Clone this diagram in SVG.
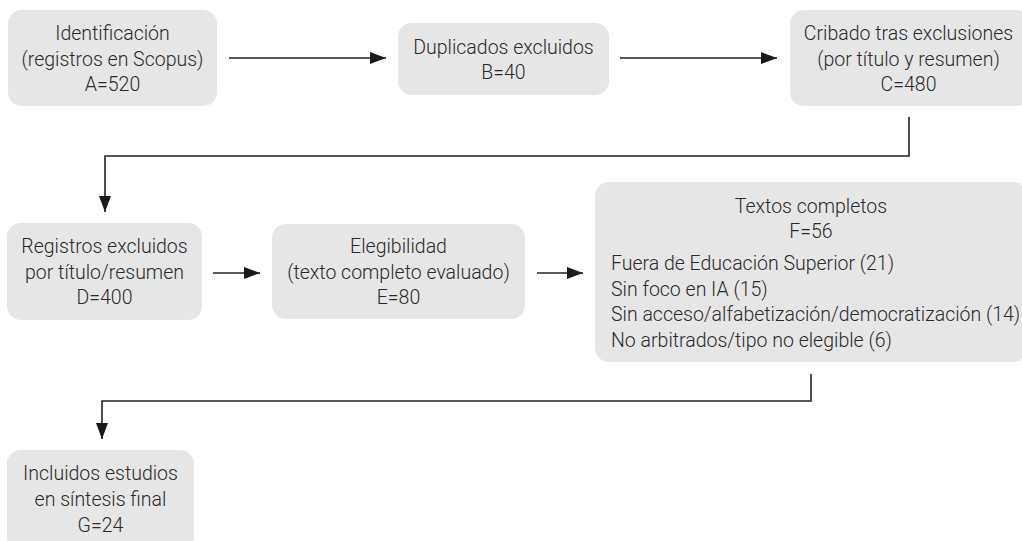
<svg xmlns="http://www.w3.org/2000/svg" width="1022" height="541" viewBox="0 0 1022 541">
<style>
.box{fill:#e6e6e7;}
.t{font-family:Roboto,"Liberation Sans",sans-serif;font-size:19.5px;font-weight:300;fill:#2a2a2a;}
.c{text-anchor:middle;}
.ln{stroke:#222;stroke-width:1.6;fill:none;}
</style>
<defs>
<marker id="ah" viewBox="0 0 16 12" refX="16" refY="6" markerWidth="16" markerHeight="12" markerUnits="userSpaceOnUse" orient="auto">
<path d="M0,0 L16,6 L0,12 Z" fill="#1a1a1a"/>
</marker>
</defs>
<rect width="1022" height="541" fill="#fff"/>
<g id="connectors">
<line class="ln" x1="229" y1="58" x2="386" y2="58" marker-end="url(#ah)"/>
<line class="ln" x1="620" y1="58" x2="777" y2="58" marker-end="url(#ah)"/>
<polyline class="ln" points="909,117 909,156 105,156 105,212" marker-end="url(#ah)"/>
<line class="ln" x1="213" y1="273" x2="260" y2="273" marker-end="url(#ah)"/>
<line class="ln" x1="537" y1="273" x2="583" y2="273" marker-end="url(#ah)"/>
<polyline class="ln" points="811,374 811,401 102,401 102,439" marker-end="url(#ah)"/>
</g>
<g id="A">
<rect class="box" x="8" y="10" width="209" height="96" rx="14"/>
<text class="t c" x="112.5" y="40">Identificación</text>
<text class="t c" x="112.5" y="65.5">(registros en Scopus)</text>
<text class="t c" x="112.5" y="91">A=520</text>
</g>
<g id="B">
<rect class="box" x="398" y="23" width="211" height="72" rx="14"/>
<text class="t c" x="503.5" y="54">Duplicados excluidos</text>
<text class="t c" x="503.5" y="79">B=40</text>
</g>
<g id="C">
<rect class="box" x="790" y="10" width="240" height="96" rx="14"/>
<text class="t c" x="908.5" y="40">Cribado tras exclusiones</text>
<text class="t c" x="908.5" y="65.5">(por título y resumen)</text>
<text class="t c" x="908.5" y="91">C=480</text>
</g>
<g id="D">
<rect class="box" x="7" y="223" width="195" height="97" rx="14"/>
<text class="t c" x="104.5" y="253">Registros excluidos</text>
<text class="t c" x="104.5" y="278.5">por título/resumen</text>
<text class="t c" x="104.5" y="304">D=400</text>
</g>
<g id="E">
<rect class="box" x="272" y="224" width="253" height="95" rx="14"/>
<text class="t c" x="398.5" y="253">Elegibilidad</text>
<text class="t c" x="398.5" y="278.5">(texto completo evaluado)</text>
<text class="t c" x="398.5" y="304">E=80</text>
</g>
<g id="F">
<rect class="box" x="595" y="182" width="432" height="180" rx="14"/>
<text class="t c" x="811" y="213">Textos completos</text>
<text class="t c" x="811" y="238">F=56</text>
<text class="t" x="611" y="270">Fuera de Educación Superior (21)</text>
<text class="t" x="611" y="295.5">Sin foco en IA (15)</text>
<text class="t" x="611" y="321">Sin acceso/alfabetización/democratización (14)</text>
<text class="t" x="611" y="346.5">No arbitrados/tipo no elegible (6)</text>
</g>
<g id="G">
<rect class="box" x="7" y="450" width="187" height="100" rx="14"/>
<text class="t c" x="100.5" y="480">Incluidos estudios</text>
<text class="t c" x="100.5" y="506">en síntesis final</text>
<text class="t c" x="100.5" y="532">G=24</text>
</g>
</svg>
